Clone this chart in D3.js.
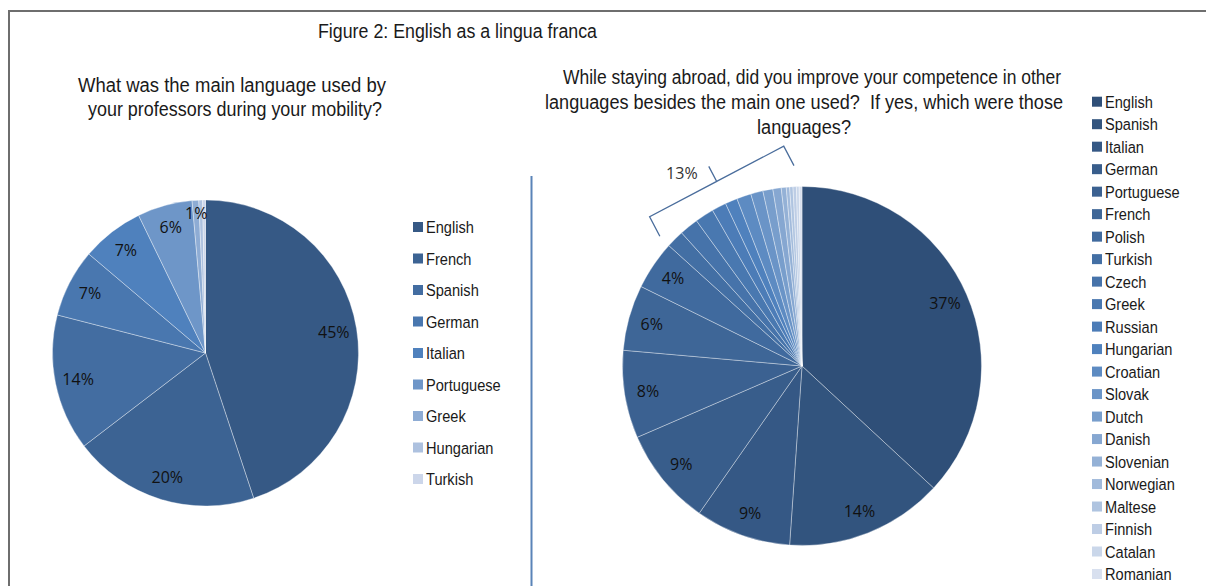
<!DOCTYPE html>
<html>
<head>
<meta charset="utf-8">
<script src="https://cdn.jsdelivr.net/npm/d3@7"></script>
<style>
  body { margin: 0; background: #fff; }
  svg { display: block; }
  text { white-space: pre; }
</style>
</head>
<body>
<svg id="chart" width="1206" height="586"></svg>
<script>
// titles
const figureTitle = "Figure 2: English as a lingua franca";
const leftTitle = ["What was the main language used by", "your professors during your mobility?"];
const rightTitle = ["While staying abroad, did you improve your competence in other",
                    "languages besides the main one used?  If yes, which were those",
                    "languages?"];

// left pie: main language used by the professors (% of answers)
const profLanguages = ["English", "French", "Spanish", "German", "Italian", "Portuguese", "Greek", "Hungarian", "Turkish"];
const profShares = [44.9, 19.7, 14.4, 7.2, 6.6, 5.8, 0.7, 0.4, 0.3];

// right pie: other languages improved while abroad (% of answers)
const otherLanguages = ["English", "Spanish", "Italian", "German", "Portuguese", "French", "Polish", "Turkish",
                        "Czech", "Greek", "Russian", "Hungarian", "Croatian", "Slovak", "Dutch", "Danish",
                        "Slovenian", "Norwegian", "Maltese", "Finnish", "Catalan", "Romanian"];
const otherShares = [36.9, 14.2, 8.6, 8.8, 7.9, 5.9, 4.4, 1.6,
                     1.7, 1.7, 1.3, 1.1, 1.3, 1.1, 0.9, 0.75,
                     0.45, 0.3, 0.3, 0.3, 0.25, 0.25];
// the small ones are grouped under one bracket, from this index on
const groupedFrom = 7;

const svg = d3.select("#chart");
const fmt = v => Math.round(v) + "%";

// frame + divider
svg.append("path")
    .attr("d", "M9,600V11H1220")
    .attr("fill", "none").attr("stroke", "#6e6e6e").attr("stroke-width", 2);
svg.append("line")
    .attr("x1", 531.5).attr("x2", 531.5).attr("y1", 176).attr("y2", 600)
    .attr("stroke", "#5a84b8").attr("stroke-width", 2);

// title text, squeezed to the width seen in the figure (narrow font look)
function titleLine(x, y, width, txt, size) {
    svg.append("text")
        .attr("x", x).attr("y", y)
        .attr("textLength", width).attr("lengthAdjust", "spacingAndGlyphs")
        .attr("font-family", "Liberation Sans, Arial, sans-serif")
        .attr("font-size", size).attr("fill", "#1a1a1a")
        .text(txt);
}
titleLine(318, 38, 279, figureTitle, 20);
titleLine(78, 91.5, 308, leftTitle[0], 20);
titleLine(88, 115.5, 294, leftTitle[1], 20);
titleLine(563, 84, 498, rightTitle[0], 19.5);
titleLine(545, 109, 518, rightTitle[1], 19.5);
titleLine(757, 134, 94, rightTitle[2], 19.5);

function shades(n, mid, dark, light) {
    return d3.scaleLinear().domain([0, mid, n - 1]).range([dark, "#4f81bd", light]);
}

function drawPie(cx, cy, r, values, colour, labelR, showLabel) {
    let g = svg.append("g").attr("transform", `translate(${cx},${cy})`);
    let arcs = d3.pie().sort(null).value(d => d)(values);
    let arc = d3.arc().innerRadius(0).outerRadius(r);
    g.selectAll("path")
        .data(arcs)
        .join("path")
        .attr("d", arc)
        .attr("fill", (d, i) => colour(i))
        .attr("stroke", "#ffffff")
        .attr("stroke-opacity", 0.45)
        .attr("stroke-width", 0.8);
    g.selectAll("text")
        .data(arcs.filter(showLabel))
        .join("text")
        .attr("transform", d => {
            let rr = labelR(d);
            return `translate(${d3.arc().innerRadius(rr).outerRadius(rr).centroid(d)})`;
        })
        .attr("text-anchor", "middle")
        .attr("dy", "0.36em")
        .attr("font-family", "'Open Sans', 'Noto Sans', sans-serif")
        .attr("font-size", 16)
        .attr("fill", "#111")
        .text(d => fmt(d.value));
    return arcs;
}

function drawLegend(x, yFirst, yLast, names, colour) {
    let y = d3.scaleLinear().domain([0, names.length - 1]).range([yFirst, yLast]);
    let g = svg.append("g");
    g.selectAll("rect")
        .data(names)
        .join("rect")
        .attr("x", x).attr("y", (d, i) => y(i) - 5)
        .attr("width", 10).attr("height", 10)
        .attr("fill", (d, i) => colour(i));
    g.selectAll("text")
        .data(names)
        .join("text")
        .attr("transform", (d, i) => `translate(${x + 13},${y(i)}) scale(0.86,1)`)
        .attr("dy", "0.36em")
        .attr("font-family", "Liberation Sans, Arial, sans-serif")
        .attr("font-size", 17)
        .attr("fill", "#1a1a1a")
        .text(d => d);
}

// left chart
let leftColour = shades(profLanguages.length, 4, "#365985", "#ccd6ea");
drawPie(205.5, 353, 153, profShares, leftColour,
        d => d.value < 2 ? 140 : 130, d => Math.round(d.value) >= 1);
drawLegend(413, 227, 479, profLanguages, leftColour);

// right chart
let rcx = 802, rcy = 366, rr = 179.5;
let rightColour = shades(otherLanguages.length, 11, "#2f4f78", "#d8e0ef");
let rightArcs = drawPie(rcx, rcy, rr, otherShares, rightColour, d => 156, d => d.index < groupedFrom);
drawLegend(1092, 101.7, 574, otherLanguages, rightColour);

// bracket over the grouped small slices
let polar = (a, r) => [rcx + r * Math.sin(a), rcy - r * Math.cos(a)];
let a0 = rightArcs[groupedFrom].startAngle;
let a1 = rightArcs[rightArcs.length - 1].endAngle;
let pA = polar(a0 + 0.005, rr + 13);
let pB = polar(a1 - 0.04, rr + 21);
let len = Math.hypot(pB[0] - pA[0], pB[1] - pA[1]);
let u = [(pB[0] - pA[0]) / len, (pB[1] - pA[1]) / len];
let n = [u[1], -u[0]];
let cA = [pA[0] + n[0] * 22, pA[1] + n[1] * 22];
let cB = [pB[0] + n[0] * 22, pB[1] + n[1] * 22];
let m = [(cA[0] + cB[0]) / 2, (cA[1] + cB[1]) / 2];
let tip = [m[0] + n[0] * 17, m[1] + n[1] * 17];
let brace = d3.path();
brace.moveTo(...pA); brace.lineTo(...cA); brace.lineTo(...m); brace.lineTo(...tip);
brace.moveTo(...m); brace.lineTo(...cB); brace.lineTo(...pB);
svg.append("path")
    .attr("d", brace.toString())
    .attr("fill", "none").attr("stroke", "#4a6d9c").attr("stroke-width", 1.3);

let groupTotal = d3.sum(otherShares.slice(groupedFrom));
svg.append("text")
    .attr("x", tip[0] - 27 * u[0] + 6.5 * n[0])
    .attr("y", tip[1] - 27 * u[1] + 6.5 * n[1])
    .attr("dy", "0.36em")
    .attr("text-anchor", "middle")
    .attr("font-family", "'Open Sans', 'Noto Sans', sans-serif")
    .attr("font-size", 16)
    .attr("fill", "#333")
    .text(fmt(groupTotal));
</script>
</body>
</html>
